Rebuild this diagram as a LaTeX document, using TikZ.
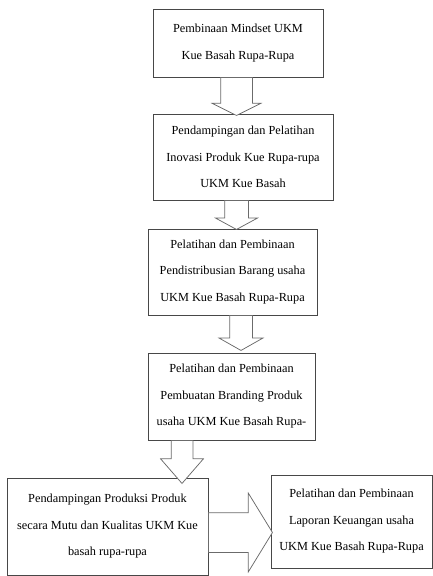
\documentclass[tikz,border=0pt]{standalone}
\usepackage{fontspec}
\setmainfont{Liberation Serif}
\usepackage{tikz}
\usetikzlibrary{shapes.arrows,calc}

\begin{document}
\begin{tikzpicture}[
        x=1pt, y=-1pt,
        font=\fontsize{12.3pt}{26.5pt}\selectfont,
        box/.style={
            rectangle,
            draw=black!72,
            fill=white,
            line width=0.9pt,
            align=center,
            inner sep=0pt
        },
        blockarrow/.style={
            single arrow,
            draw=black!58,
            fill=white,
            line width=0.75pt,
            inner xsep=0pt,
            outer sep=0pt,
            minimum width=0pt,
            single arrow head indent=0pt,
            anchor=tail
        }
    ]

    \useasboundingbox (0,0) rectangle (433,576);

    \node[box, minimum width=170pt, minimum height=68pt] (mindset) at (238,43) {
        Pembinaan Mindset UKM\\
        Kue Basah Rupa-Rupa
    };

    \node[box, minimum width=180pt, minimum height=86pt] (inovasi) at (243,157) {
        Pendampingan dan Pelatihan\\
        Inovasi Produk Kue Rupa-rupa\\
        UKM Kue Basah
    };

    \node[box, minimum width=169pt, minimum height=86pt] (distribusi) at (232.5,272) {
        Pelatihan dan Pembinaan\\
        Pendistribusian Barang usaha\\
        UKM Kue Basah Rupa-Rupa
    };

    \node[box, minimum width=167pt, minimum height=87pt] (branding) at (231.5,396.5) {
        Pelatihan dan Pembinaan\\
        Pembuatan Branding Produk\\
        usaha UKM Kue Basah Rupa-
    };

    \node[box, minimum width=201pt, minimum height=97pt] (produksi) at (107.5,526.5) {
        Pendampingan Produksi Produk\\
        secara Mutu dan Kualitas UKM Kue\\
        basah rupa-rupa
    };

    \node[box, minimum width=161pt, minimum height=93pt] (keuangan) at (351.5,521.5) {
        Pelatihan dan Pembinaan\\
        Laporan Keuangan usaha\\
        UKM Kue Basah Rupa-Rupa
    };

    % block arrows between the steps
    \node[blockarrow, rotate=-90, inner ysep=15.5pt, minimum height=38pt,
          single arrow head extend=8.5pt, single arrow tip angle=127]
        (a1) at ([xshift=-1.5pt]mindset.south) {};
    \node[blockarrow, rotate=-90, inner ysep=11.5pt, minimum height=29pt,
          single arrow head extend=9pt, single arrow tip angle=123]
        (a2) at ([xshift=-6.5pt]inovasi.south) {};
    \node[blockarrow, rotate=-90, inner ysep=11pt, minimum height=35pt,
          single arrow head extend=10.5pt, single arrow tip angle=121]
        (a3) at ([xshift=8.5pt]distribusi.south) {};
    \node[blockarrow, rotate=-90, inner ysep=10.5pt, minimum height=43pt,
          single arrow head extend=10.5pt, single arrow tip angle=82]
        (a4) at ([xshift=-49.5pt]branding.south) {};
    \node[blockarrow, inner ysep=19.5pt, minimum height=64pt,
          single arrow head extend=19.5pt, single arrow tip angle=117]
        (a5) at ([yshift=-6pt]produksi.east) {};

\end{tikzpicture}
\end{document}
